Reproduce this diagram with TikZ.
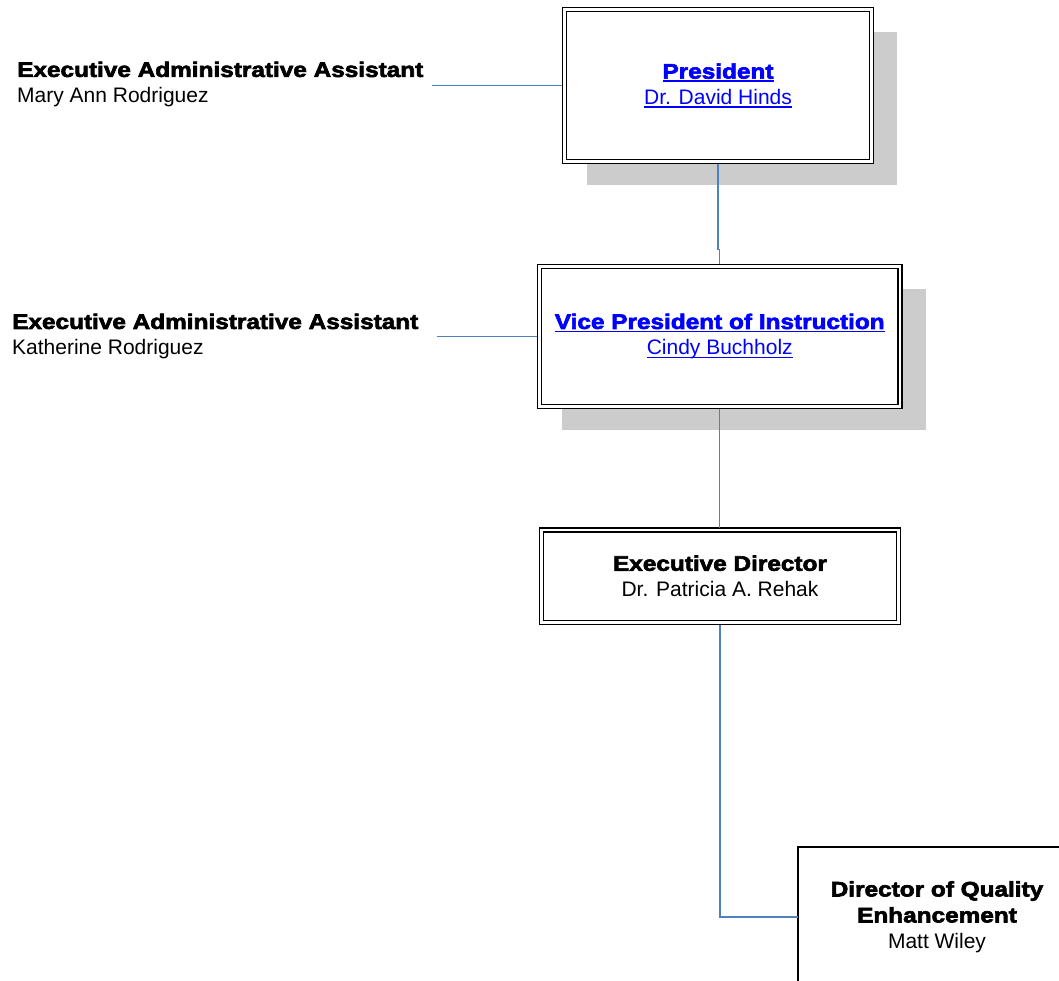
\documentclass[tikz,border=0pt]{standalone}
\usepackage{fontspec}
\setmainfont{Liberation Sans}
\newfontfamily\heavyfont{Liberation Sans}[FakeStretch=1.16, BoldFeatures={FakeBold=3}]
\usepackage{xcolor}
\usetikzlibrary{positioning,shadows}
\definecolor{linkblue}{RGB}{0,0,255}
\definecolor{linkline}{RGB}{79,129,189}
\definecolor{shadegray}{RGB}{204,204,204}
\newcommand\linktext[1]{\setbox0\hbox{#1}\rlap{\rule[-3pt]{\wd0}{1.2pt}}\box0}

\begin{document}
\begin{tikzpicture}[x=1pt, y=-1pt,
  post/.style={draw=black, line width=1.8pt, double=white, double distance=2.2pt,
               fill=white, align=center, inner sep=0pt, outer sep=0pt},
  shade/.style={drop shadow={shadow xshift=24pt, shadow yshift=-23pt,
               shadow scale=1.01, fill=shadegray, opacity=1}},
  aide/.style={anchor=west, align=left, inner sep=0pt},
  link/.style={draw=linkline, line width=1.4pt},
  font=\fontsize{21}{26}\selectfont,
]
  \path[use as bounding box, clip] (0,0) rectangle (1059,980);

  \node[post, shade, minimum width=307pt, minimum height=152pt] (pres) at (718,85.5)
    {{\heavyfont\bfseries\color{linkblue}\linktext{President}}\\
     {\color{linkblue}\linktext{Dr. David Hinds}}};
  \node[post, shade, minimum width=360.5pt, minimum height=140pt] (vp) at (719.75,336.5)
    {{\heavyfont\bfseries\color{linkblue}\linktext{Vice President of Instruction}}\\
     {\color{linkblue}\linktext{Cindy Buchholz}}};
  \node[post, minimum width=357pt, minimum height=92.5pt] (ed) at (720,576.25)
    {{\heavyfont\bfseries Executive Director}\\Dr. Patricia A. Rehak};
  \node[draw=black, line width=2pt, fill=white, align=center, outer sep=0pt,
        minimum width=278pt, minimum height=140pt] (dqe) at (937,917)
    {{\heavyfont\bfseries Director of Quality}\\
     {\heavyfont\bfseries Enhancement}\\Matt Wiley};

  \node[aide] (aide1) at (17,84.5)
    {{\heavyfont\bfseries Executive Administrative Assistant}\\Mary Ann Rodriguez};
  \node[aide] (aide2) at (12,336.5)
    {{\heavyfont\bfseries Executive Administrative Assistant}\\Katherine Rodriguez};

  \draw[link, shorten >=2.5pt] ([xshift=8pt]aide1.east |- pres.west) -- (pres.west);
  \draw[link, shorten >=2.5pt] ([xshift=18pt]aide2.east |- vp.west) -- (vp.west);
  \draw[link, shorten <=2.5pt, shorten >=2.5pt] (pres.south) -- ++(0,88) -| (vp.north);
  \draw[link, shorten <=2.5pt, shorten >=2.5pt] (vp.south) -- (vp.south |- ed.north);
  \draw[link, shorten <=2.5pt] (ed.south) |- (dqe.west);
\end{tikzpicture}
\end{document}
